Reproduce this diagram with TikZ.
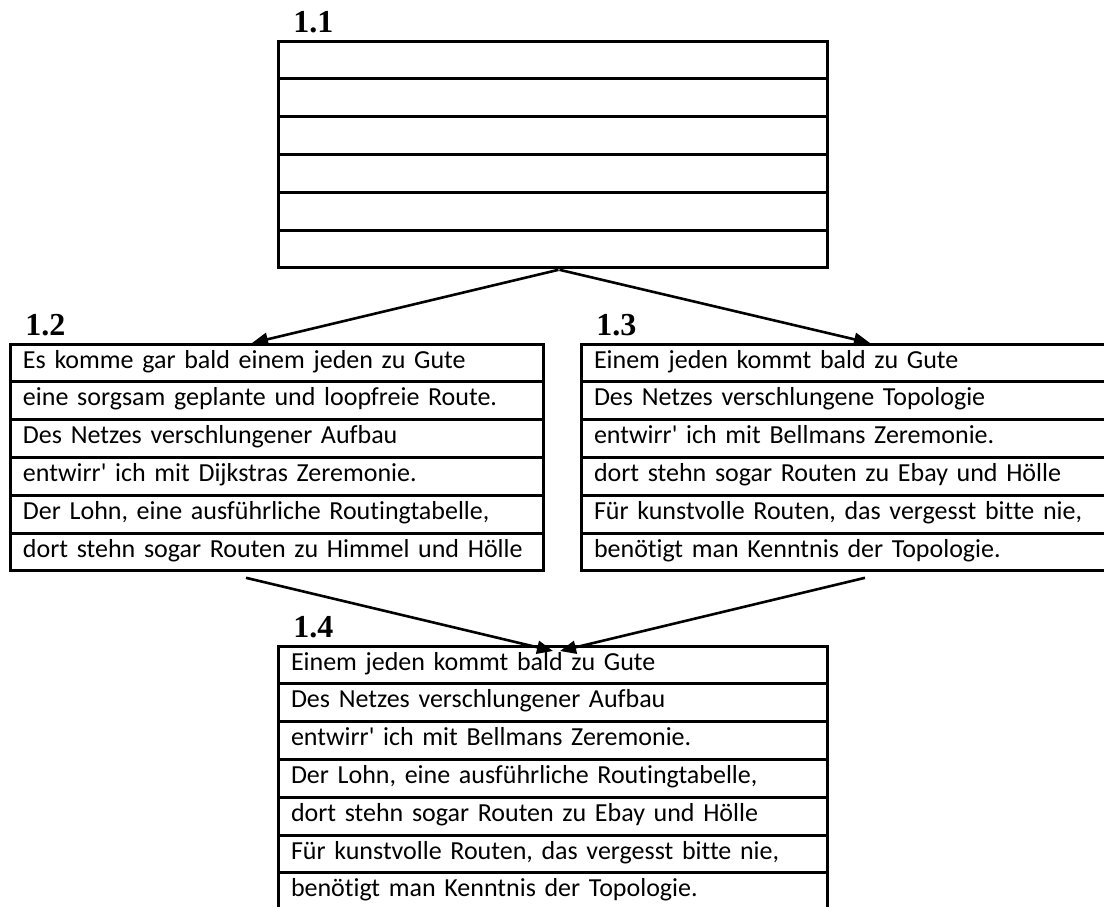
\documentclass[tikz,border=0pt]{standalone}
\usepackage{fontspec}
\setmainfont{Carlito}[Ligatures={NoCommon,NoContextual},Contextuals={NoAlternate}]
\newfontfamily\tagfont{Liberation Serif}
\usetikzlibrary{arrows.meta}
\usetikzlibrary{positioning}

\begin{document}
\begin{tikzpicture}[x=0.5pt,y=-0.5pt,>={Triangle[length=8pt,width=6.5pt]},
    row/.style={draw,line width=1.5pt,outer sep=0pt,inner xsep=6.5pt,inner ysep=0pt,
      minimum height=18.9pt,text height=9pt,text depth=3.9pt,align=left,
      font=\fontsize{13}{15.6}\selectfont},
    wide row/.style={row,text width=261.5pt},
    half row/.style={row,text width=253.5pt},
    tag/.style={anchor=base west,inner sep=0pt,
      font=\tagfont\bfseries\fontsize{16}{19}\selectfont},
    link/.style={->,line width=1.3pt}]

  \useasboundingbox (0,0) rectangle (1104,906);
  \clip (0,0) rectangle (1104,906);

  % 1.1
  \node[wide row,anchor=north west] (r11) at (278,41) {};
  \node[wide row,below=0pt of r11] (r12) {};
  \node[wide row,below=0pt of r12] (r13) {};
  \node[wide row,below=0pt of r13] (r14) {};
  \node[wide row,below=0pt of r14] (r15) {};
  \node[wide row,below=0pt of r15] (r16) {};
  \node[tag] (t11) at ([shift={(15,-9)}]r11.north west) {1.1};

  % 1.2
  \node[half row,anchor=north west] (r21) at (10,344) {Es komme gar bald einem jeden zu Gute};
  \node[half row,below=0pt of r21] (r22) {eine sorgsam geplante und loopfreie Route.};
  \node[half row,below=0pt of r22] (r23) {Des Netzes verschlungener Aufbau};
  \node[half row,below=0pt of r23] (r24) {entwirr\textquotesingle{} ich mit Dijkstras Zeremonie.};
  \node[half row,below=0pt of r24] (r25) {Der Lohn, eine ausführliche Routingtabelle,};
  \node[half row,below=0pt of r25] (r26) {dort stehn sogar Routen zu Himmel und Hölle};
  \node[tag] (t12) at ([shift={(15,-9)}]r21.north west) {1.2};

  % 1.3
  \node[half row,anchor=north west] (r31) at (581,344) {Einem jeden kommt bald zu Gute};
  \node[half row,below=0pt of r31] (r32) {Des Netzes verschlungene Topologie};
  \node[half row,below=0pt of r32] (r33) {entwirr\textquotesingle{} ich mit Bellmans Zeremonie.};
  \node[half row,below=0pt of r33] (r34) {dort stehn sogar Routen zu Ebay und Hölle};
  \node[half row,below=0pt of r34] (r35) {Für kunstvolle Routen, das vergesst bitte nie,};
  \node[half row,below=0pt of r35] (r36) {benötigt man Kenntnis der Topologie.};
  \node[tag] (t13) at ([shift={(15,-9)}]r31.north west) {1.3};

  % 1.4
  \node[wide row,anchor=north west] (r41) at (278,646) {Einem jeden kommt bald zu Gute};
  \node[wide row,below=0pt of r41] (r42) {Des Netzes verschlungener Aufbau};
  \node[wide row,below=0pt of r42] (r43) {entwirr\textquotesingle{} ich mit Bellmans Zeremonie.};
  \node[wide row,below=0pt of r43] (r44) {Der Lohn, eine ausführliche Routingtabelle,};
  \node[wide row,below=0pt of r44] (r45) {dort stehn sogar Routen zu Ebay und Hölle};
  \node[wide row,below=0pt of r45] (r46) {Für kunstvolle Routen, das vergesst bitte nie,};
  \node[wide row,below=0pt of r46] (r47) {benötigt man Kenntnis der Topologie.};
  \node[tag] (t14) at ([shift={(15,-9)}]r41.north west) {1.4};

  % arrows
  \draw[link] ([shift={(6,2)}]r16.south) -- ([shift={(-24.5,-1)}]r21.north);
  \draw[link] ([shift={(7,2)}]r16.south) -- ([shift={(22.5,-1)}]r31.north);
  \draw[link] ([shift={(-30.5,7)}]r26.south) -- ([shift={(0.5,5)}]r41.north);
  \draw[link] ([shift={(17.5,7)}]r36.south) -- ([shift={(7.5,5)}]r41.north);
\end{tikzpicture}
\end{document}
